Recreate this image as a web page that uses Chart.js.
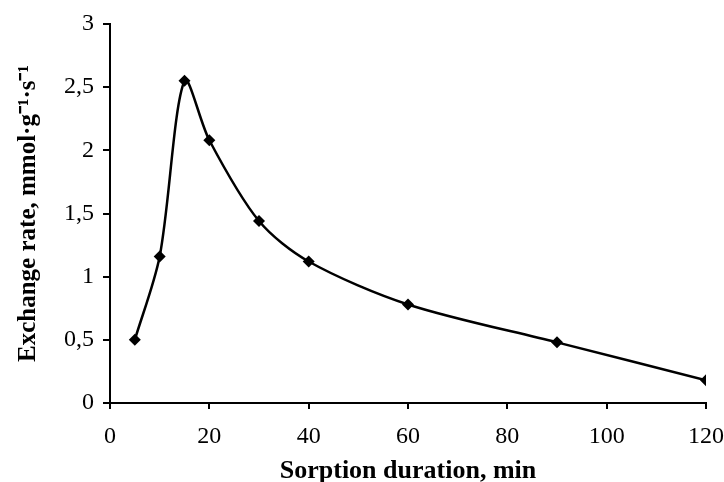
<!DOCTYPE html>
<html>
<head>
<meta charset="utf-8">
<script src="https://cdn.jsdelivr.net/npm/chart.js@4"></script>
<style>
  html, body { margin: 0; padding: 0; background: #fff; }
  #wrap { width: 724px; height: 482px; }
</style>
</head>
<body>
<div id="wrap"><canvas id="grafica" width="724" height="482"></canvas></div>
<script>
// duración de sorción (min) y velocidad de intercambio
const duracion = [5, 10, 15, 20, 30, 40, 60, 90, 120];
const velocidad = [0.5, 1.16, 2.55, 2.08, 1.44, 1.12, 0.78, 0.48, 0.18];
const ticksX = [0, 20, 40, 60, 80, 100, 120];
const ticksY = [0, 0.5, 1, 1.5, 2, 2.5, 3];

const fuente = "'Liberation Serif', 'Times New Roman', serif";
const coma = v => String(v).replace(".", ",");

let ctx = document.getElementById("grafica").getContext("2d");

new Chart(ctx, {
    type: "line",
    data: {
        datasets: [{
            data: duracion.map((x, i) => ({ x: x, y: velocidad[i] })),
            borderColor: "#000",
            backgroundColor: "#000",
            borderWidth: 2.5,
            tension: 0.3,
            pointStyle: "rectRot",
            pointRadius: 6,
            pointBorderWidth: 0,
            fill: false
        }]
    },
    options: {
        responsive: false,
        animation: false,
        layout: { padding: { top: 24, right: 18, left: 0, bottom: 0 } },
        plugins: { legend: { display: false }, tooltip: { enabled: false } },
        scales: {
            x: {
                type: "linear",
                min: 0, max: 120,
                afterBuildTicks: s => { s.ticks = ticksX.map(v => ({ value: v })); },
                afterFit: s => { s.height = 79; s.paddingLeft = 0; s.paddingRight = 0; },
                border: { color: "#000", width: 2 },
                grid: { drawOnChartArea: false, tickLength: 6, color: "#000", lineWidth: 2 },
                ticks: { color: "#000", font: { family: fuente, size: 24 }, padding: 13, maxRotation: 0, callback: coma },
                title: { display: true, text: "Sorption duration, min", color: "#000",
                         font: { family: fuente, size: 26, weight: "bold" }, padding: { top: 0, bottom: -5 } }
            },
            y: {
                min: 0, max: 3,
                afterBuildTicks: s => { s.ticks = ticksY.map(v => ({ value: v })); },
                afterFit: s => { s.width = 110; s.paddingTop = 0; s.paddingBottom = 0; },
                border: { color: "#000", width: 2 },
                grid: { drawOnChartArea: false, tickLength: 7, color: "#000", lineWidth: 2 },
                ticks: { color: "#000", font: { family: fuente, size: 24 }, padding: 9, callback: coma },
                title: { display: true, text: "Exchange rate, mmol·g⁻¹·s⁻¹", color: "#000",
                         font: { family: fuente, size: 25, weight: "bold" }, padding: { top: 14, bottom: 0 } }
            }
        }
    }
});
</script>
</body>
</html>
